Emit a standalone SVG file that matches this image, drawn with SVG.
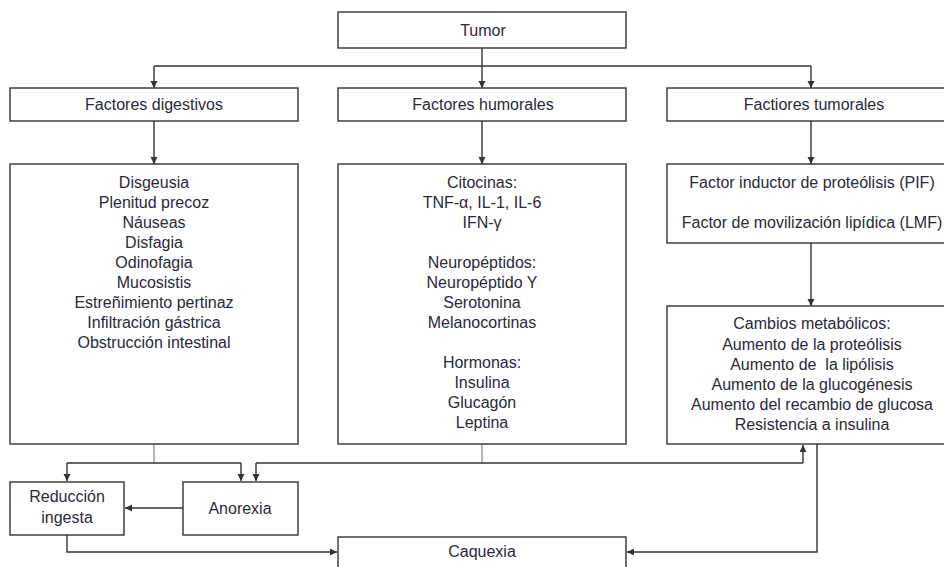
<svg xmlns="http://www.w3.org/2000/svg" width="944" height="567" viewBox="0 0 944 567">
<defs>
<style>
.box{fill:#fff;stroke:#333;stroke-width:1.4}
.t{font-family:"Liberation Sans",Arial,sans-serif;font-size:16px;fill:#2a2a36;text-anchor:middle}
.c{fill:none;stroke:#333;stroke-width:1.4}
.g{fill:none;stroke:#999;stroke-width:1.4}
</style>
<marker id="ah" markerWidth="8" markerHeight="8" refX="7" refY="3.5" orient="auto" markerUnits="userSpaceOnUse">
<path d="M0,0 L7,3.5 L0,7 Z" fill="#333"/>
</marker>
</defs>
<rect width="944" height="567" fill="#fff"/>
<g id="connectors">
<path class="c" d="M482 48 V66"/>
<path class="c" d="M154 66 H811"/>
<path class="c" d="M154 66 V88" marker-end="url(#ah)"/>
<path class="c" d="M482 66 V88" marker-end="url(#ah)"/>
<path class="c" d="M811 66 V88" marker-end="url(#ah)"/>
<path class="c" d="M154 121 V164" marker-end="url(#ah)"/>
<path class="c" d="M482 121 V164" marker-end="url(#ah)"/>
<path class="c" d="M811 121 V164" marker-end="url(#ah)"/>
<path class="c" d="M811 243 V306" marker-end="url(#ah)"/>
<path class="g" d="M154 444 V463"/>
<path class="c" d="M67 463 H241"/>
<path class="c" d="M67 463 V481" marker-end="url(#ah)"/>
<path class="c" d="M241 463 V481" marker-end="url(#ah)"/>
<path class="g" d="M482 444 V463"/>
<path class="c" d="M256 463 H803"/>
<path class="c" d="M256 463 V481" marker-end="url(#ah)"/>
<path class="c" d="M803 463 V445" marker-end="url(#ah)"/>
<path class="c" d="M183 508 H125" marker-end="url(#ah)"/>
<path class="c" d="M67 535 V552 H337" marker-end="url(#ah)"/>
<path class="c" d="M817 444 V552 H627" marker-end="url(#ah)"/>
</g>
<g id="tumor">
<rect class="box" x="338" y="12" width="288" height="36"/>
<text class="t" x="483" y="35.5">Tumor</text>
</g>
<g id="factores-digestivos">
<rect class="box" x="10" y="88" width="288" height="33"/>
<text class="t" x="154" y="110">Factores digestivos</text>
</g>
<g id="factores-humorales">
<rect class="box" x="338" y="88" width="288" height="33"/>
<text class="t" x="483" y="110">Factores humorales</text>
</g>
<g id="factores-tumorales">
<rect class="box" x="667" y="88" width="290" height="33"/>
<text class="t" x="814" y="110">Factiores tumorales</text>
</g>
<g id="digestivos-lista">
<rect class="box" x="10" y="164" width="288" height="280"/>
<text class="t" x="154" y="187.5">Disgeusia</text>
<text class="t" x="154" y="207.5">Plenitud precoz</text>
<text class="t" x="154" y="227.5">Náuseas</text>
<text class="t" x="154" y="247.5">Disfagia</text>
<text class="t" x="154" y="267.5">Odinofagia</text>
<text class="t" x="154" y="287.5">Mucosistis</text>
<text class="t" x="154" y="307.5">Estreñimiento pertinaz</text>
<text class="t" x="154" y="327.5">Infiltración gástrica</text>
<text class="t" x="154" y="347.5">Obstrucción intestinal</text>
</g>
<g id="humorales-lista">
<rect class="box" x="338" y="164" width="288" height="280"/>
<text class="t" x="482" y="187.5">Citocinas:</text>
<text class="t" x="482" y="207.5">TNF-α, IL-1, IL-6</text>
<text class="t" x="482" y="227.5">IFN-γ</text>
<text class="t" x="482" y="267.5">Neuropéptidos:</text>
<text class="t" x="482" y="287.5">Neuropéptido Y</text>
<text class="t" x="482" y="307.5">Serotonina</text>
<text class="t" x="482" y="327.5">Melanocortinas</text>
<text class="t" x="482" y="367.5">Hormonas:</text>
<text class="t" x="482" y="387.5">Insulina</text>
<text class="t" x="482" y="407.5">Glucagón</text>
<text class="t" x="482" y="427.5">Leptina</text>
</g>
<g id="factores-pif-lmf">
<rect class="box" x="667" y="164" width="290" height="79"/>
<text class="t" x="812" y="187.5">Factor inductor de proteólisis (PIF)</text>
<text class="t" x="812" y="227.5">Factor de movilización lipídica (LMF)</text>
</g>
<g id="cambios-metabolicos">
<rect class="box" x="667" y="306" width="290" height="138"/>
<text class="t" x="812" y="328.5">Cambios metabólicos:</text>
<text class="t" x="812" y="349.5">Aumento de la proteólisis</text>
<text class="t" x="812" y="369.5">Aumento de&#160; la lipólisis</text>
<text class="t" x="812" y="389.5">Aumento de la glucogénesis</text>
<text class="t" x="812" y="409.5">Aumento del recambio de glucosa</text>
<text class="t" x="812" y="429.5">Resistencia a insulina</text>
</g>
<g id="reduccion-ingesta">
<rect class="box" x="10" y="482" width="114" height="53"/>
<text class="t" x="67" y="502">Reducción</text>
<text class="t" x="67" y="523">ingesta</text>
</g>
<g id="anorexia">
<rect class="box" x="183" y="482" width="115" height="53"/>
<text class="t" x="240" y="513.5">Anorexia</text>
</g>
<g id="caquexia">
<rect class="box" x="338" y="537" width="288" height="40"/>
<text class="t" x="482" y="557">Caquexia</text>
</g>
</svg>
